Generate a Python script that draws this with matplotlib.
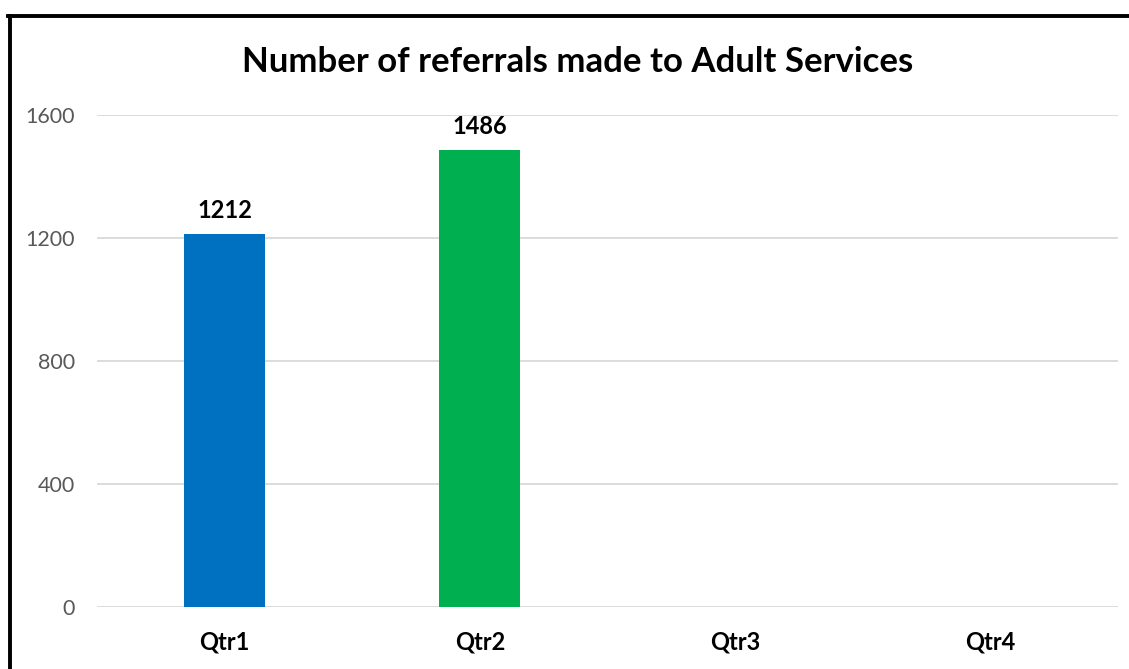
import matplotlib.pyplot as plt
from matplotlib.lines import Line2D

categories = ["Qtr1", "Qtr2", "Qtr3", "Qtr4"]
values = [1212, 1486, 0, 0]
colors = ["#0070C0", "#00B050", "#0070C0", "#0070C0"]
labels_shown = [True, True, False, False]
yticks = [0, 400, 800, 1200, 1600]

plt.rcParams['font.family'] = ['Lato', 'DejaVu Sans']

W, H = 1129, 669
fig = plt.figure(figsize=(W/100, H/100), dpi=100)
ax = fig.add_axes([97/W, 62/H, (1118-97)/W, (607-115)/H])

x = range(len(categories))
bars = ax.bar(x, values, width=0.317, color=colors, zorder=3)
for b, v, s in zip(bars, values, labels_shown):
    if s:
        ax.annotate(str(v), (b.get_x()+b.get_width()/2, v), xytext=(0, 9),
                    textcoords='offset points', ha='center', va='bottom',
                    fontsize=17, fontweight='bold', color='black')

ax.set_xlim(-0.5, 3.5)
ax.set_ylim(0, 1600)
ax.set_yticks(yticks)
ax.set_xticks(list(x))
ax.set_xticklabels(categories, fontsize=17, fontweight='bold', color='black')
ax.tick_params(axis='y', labelsize=15.5, labelcolor='#595959', length=0, pad=16)
ax.tick_params(axis='x', length=0, pad=17)
ax.grid(axis='y', color='#d9d9d9', linewidth=1.3, zorder=0)
for s in ax.spines.values():
    s.set_visible(False)

fig.text(578/W, 1-62/H, "Number of referrals made to Adult Services", ha='center', va='center',
         fontsize=25, fontweight='bold', color='black')

# outer frame (left and top visible)
fig.add_artist(Line2D([9.5/W, 9.5/W], [0, 1-15.5/H], transform=fig.transFigure, color='black', linewidth=2.8))
fig.add_artist(Line2D([8/W, 1], [1-15.5/H, 1-15.5/H], transform=fig.transFigure, color='black', linewidth=2.8))

fig.savefig("out.png", dpi=100)
